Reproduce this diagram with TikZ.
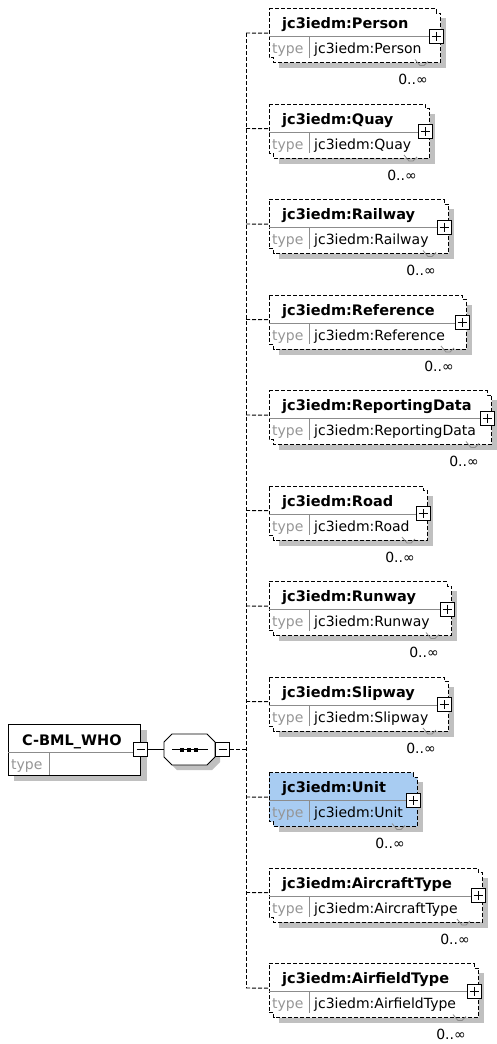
\documentclass[tikz,border=0pt]{standalone}
\usepackage{fontspec}
\setmainfont{DejaVu Sans}
\usetikzlibrary{calc}
\definecolor{shadowgrey}{RGB}{192,192,192}
\definecolor{sepgrey}{RGB}{140,140,140}
\definecolor{typegrey}{RGB}{150,150,150}
\definecolor{selblue}{RGB}{168,204,242}
\tikzset{
  every node/.style={font=\fontsize{14}{16}\selectfont, inner sep=0pt},
  dsh/.style={dash pattern=on 4pt off 2pt},
  thin line/.style={line width=0.9pt},
  frontbox/.style={draw=none, anchor=north west, minimum height=49pt},
  outline/.style={draw=black, thin line, dsh},
  sepline/.style={draw=sepgrey, line width=0.9pt},
  pmbox/.style={draw=black, fill=white, line width=0.9pt, minimum width=14pt, minimum height=14pt},
  txt/.style={anchor=base west},
  titletxt/.style={anchor=base west, font=\fontsize{14.5}{16}\selectfont\bfseries},
  typetxt/.style={anchor=base west, text=typegrey},
  conn/.style={draw=black, thin line, dsh},
  solidconn/.style={draw=black, thin line},
}
\begin{document}
\begin{tikzpicture}[x=1pt, y=-1pt]
\useasboundingbox (0,0) rectangle (497,1044);
\fill[white] (0,0) rectangle (497,1044);

% ---------- root element ----------
\fill[shadowgrey] (14,730) rectangle (146.5,781);
\node[draw=black, fill=white, line width=1pt, anchor=north west, minimum width=132pt, minimum height=51pt] (root) at (8,724) {};
\draw[sepline] (8,752) -- (140,752);
\draw[sepline] (49,752) -- (49,775);
\node[titletxt] (roottitle) at (22,745) {C-BML\_WHO};
\node[typetxt] (roottype) at (11,769) {type};
\node[pmbox] (rm) at (140.5,749.5) {};
\draw[black, line width=0.9pt] ($(rm.center)+(-4,0)$) -- ($(rm.center)+(4,0)$);

% ---------- sequence compositor ----------
\node[minimum width=51pt, minimum height=31pt] (seq) at (189.5,749.5) {};
\fill[shadowgrey] (169,747) -- (177,739) -- (212,739) -- (220,747) -- (220,762) -- (212,770) -- (177,770) -- (169,762) -- cycle;
\draw[black, line width=0.9pt, fill=white] (164,742) -- (172,734) -- (207,734) -- (215,742) -- (215,757) -- (207,765) -- (172,765) -- (164,757) -- cycle;
\draw[black, line width=0.9pt] (172,749.5) -- (208,749.5);
\foreach \dx in {182,189,196} \fill[black] (\dx-2,747.5) rectangle (\dx+2,751.5);
\node[pmbox] (sm) at (222.5,749.5) {};
\draw[black, line width=0.9pt] ($(sm.center)+(-4,0)$) -- ($(sm.center)+(4,0)$);
\draw[solidconn] (rm.east) -- (seq.west);

% ---------- trunk ----------
\coordinate (jtop) at (246,33);
\coordinate (jbot) at (246,988);
\coordinate (jseq) at (246,749.5);
\draw[conn] (jtop) -- (jbot);
\draw[conn] (sm.east) -- (jseq);

% ---------- child elements ----------
\foreach \nm/\R/\fc [count=\i from 0] in {Person/436/white, Quay/425/white, Railway/444/white, Reference/462/white, ReportingData/487/white, Road/423/white, Runway/447/white, Slipway/444/white, Unit/413/selblue, AircraftType/478/white, AirfieldType/474/white} {
  \pgfmathsetmacro{\T}{8.5+95.5*\i}
  \pgfmathsetmacro{\W}{\R-269}
  % shadow
  \fill[shadowgrey] (278.5,\T+9.5) rectangle (\R+9.5,\T+59.5);
  % outline of the stacked boxes
  \filldraw[outline, fill=\fc] (269,\T) -- (\R,\T) -- (\R,\T+4.5) -- (\R+4.5,\T+4.5) -- (\R+4.5,\T+54) -- (273.5,\T+54) -- (273.5,\T+49) -- (269,\T+49) -- cycle;
  % front box (anchor node)
  \node[frontbox, minimum width=\W pt] (e\i) at (269,\T) {};
  \draw[sepline] (269,\T+28) -- (\R,\T+28);
  \draw[sepline] (309,\T+28) -- (309,\T+49);
  \node[titletxt] (t\i) at (282,\T+20) {jc3iedm:\nm};
  \node[typetxt] (k\i) at (272,\T+45) {type};
  \node[txt] (v\i) at (314,\T+45) {jc3iedm:\nm};
  % expand box
  \node[pmbox] (p\i) at (\R,\T+27.5) {};
  \draw[black, line width=0.9pt] ($(p\i.center)+(-4.5,0)$) -- ($(p\i.center)+(4.5,0)$);
  \draw[black, line width=0.9pt] ($(p\i.center)+(0,-4.5)$) -- ($(p\i.center)+(0,4.5)$);
  % occurrence tick and label
  \draw[sepgrey, line width=0.8pt] (\R-21,\T+51) -- (\R-16,\T+57) -- (\R-12,\T+57) -- (\R-8,\T+53);
  \node[anchor=base] (o\i) at (\R-23,\T+76) {0..∞};
  % connector
  \coordinate (j\i) at (246,\T+24.5);
  \draw[conn] (j\i) -- (e\i.west);
}
\end{tikzpicture}
\end{document}
